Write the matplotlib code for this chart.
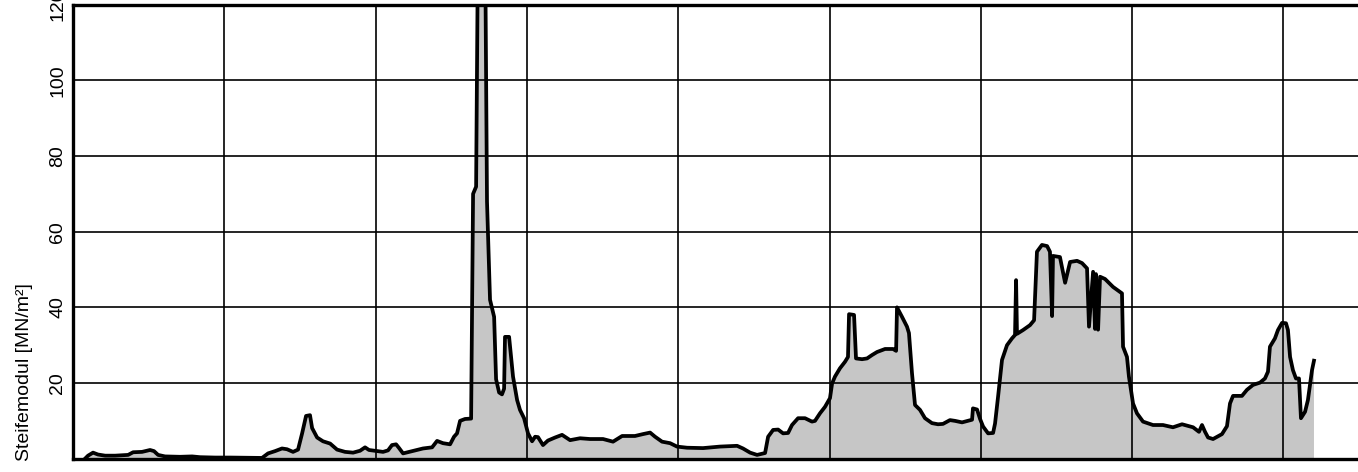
import numpy as np
import matplotlib
matplotlib.use("Agg")
import matplotlib.pyplot as plt

plt.rcParams['font.family'] = ['Liberation Sans', 'DejaVu Sans']

# position along the profile (grid line every 1 unit)
dist = [0.079, 0.099, 0.132, 0.165, 0.212, 0.278, 0.364, 0.397, 0.456, 0.509,
        0.535, 0.562, 0.608, 0.707, 0.787, 0.839, 0.939, 1.038, 1.249, 1.289,
        1.335, 1.381, 1.414, 1.454, 1.487, 1.514, 1.540, 1.566, 1.580, 1.613,
        1.652, 1.699, 1.745, 1.798, 1.851, 1.897, 1.930, 1.956, 2.009, 2.049,
        2.082, 2.108, 2.135, 2.155, 2.181, 2.241, 2.313, 2.373, 2.406, 2.445,
        2.492, 2.518, 2.538, 2.558, 2.591, 2.631, 2.644, 2.664, 2.677, 2.723,
        2.736, 2.756, 2.783, 2.796, 2.816, 2.835, 2.849, 2.855, 2.882, 2.908,
        2.935, 2.954, 2.981, 3.007, 3.034, 3.054, 3.073, 3.106, 3.139, 3.186,
        3.232, 3.285, 3.351, 3.417, 3.503, 3.569, 3.629, 3.714, 3.767, 3.814,
        3.847, 3.893, 3.946, 3.992, 4.058, 4.164, 4.276, 4.389, 4.428, 4.475,
        4.521, 4.574, 4.594, 4.627, 4.660, 4.693, 4.726, 4.752, 4.792, 4.838,
        4.884, 4.904, 4.937, 4.970, 5.003, 5.017, 5.036, 5.069, 5.102, 5.122,
        5.129, 5.162, 5.175, 5.215, 5.248, 5.281, 5.314, 5.367, 5.420, 5.440,
        5.446, 5.479, 5.512, 5.525, 5.545, 5.565, 5.598, 5.631, 5.677, 5.717,
        5.750, 5.796, 5.829, 5.876, 5.915, 5.942, 5.948, 5.975, 5.995, 6.015,
        6.048, 6.081, 6.094, 6.114, 6.140, 6.173, 6.206, 6.226, 6.233, 6.239,
        6.279, 6.325, 6.352, 6.371, 6.404, 6.438, 6.457, 6.471, 6.477, 6.523,
        6.557, 6.590, 6.636, 6.669, 6.702, 6.715, 6.742, 6.755, 6.761, 6.775,
        6.788, 6.821, 6.874, 6.933, 6.940, 6.966, 6.979, 7.006, 7.032, 7.072,
        7.138, 7.204, 7.270, 7.330, 7.403, 7.442, 7.462, 7.482, 7.502, 7.535,
        7.594, 7.627, 7.647, 7.667, 7.726, 7.759, 7.799, 7.845, 7.878, 7.898,
        7.911, 7.944, 7.964, 7.991, 8.017, 8.030, 8.044, 8.063, 8.083, 8.103,
        8.116, 8.143, 8.162, 8.189, 8.202]

# Steifemodul in MN/m2
modul = [0.0, 0.8, 1.6, 1.1, 0.8, 0.8, 1.0, 1.7, 1.8, 2.3,
         2.0, 1.0, 0.6, 0.5, 0.6, 0.4, 0.3, 0.3, 0.2, 1.4,
         2.0, 2.7, 2.5, 1.8, 2.4, 6.7, 11.3, 11.5, 8.1, 5.6,
         4.6, 4.0, 2.4, 1.8, 1.6, 2.1, 3.0, 2.3, 2.0, 1.8,
         2.2, 3.6, 3.8, 2.8, 1.4, 2.0, 2.7, 3.0, 4.7, 4.1,
         3.8, 5.8, 6.7, 10.0, 10.5, 10.6, 70.0, 71.9, 140.0, 140.0,
         68.0, 42.0, 37.5, 21.0, 17.5, 17.0, 18.5, 32.2, 32.2, 21.7,
         15.5, 12.9, 10.7, 6.7, 4.6, 5.8, 5.7, 3.6, 4.8, 5.6,
         6.3, 4.9, 5.4, 5.2, 5.2, 4.5, 6.0, 6.0, 6.5, 6.9,
         5.8, 4.5, 4.1, 3.2, 2.9, 2.8, 3.2, 3.4, 2.7, 1.6,
         1.0, 1.5, 5.8, 7.6, 7.7, 6.7, 6.8, 8.9, 10.7, 10.7,
         9.8, 10.0, 12.0, 13.7, 16.0, 19.9, 21.7, 23.9, 25.6, 26.9,
         38.2, 38.0, 26.5, 26.3, 26.5, 27.4, 28.2, 29.0, 29.0, 28.5,
         40.0, 37.5, 34.9, 33.2, 22.6, 14.2, 12.9, 10.7, 9.4, 9.1,
         9.2, 10.2, 10.0, 9.6, 10.0, 10.3, 13.3, 13.0, 10.5, 8.5,
         6.7, 6.8, 9.3, 16.4, 26.1, 30.0, 31.8, 32.7, 47.2, 33.0,
         34.0, 35.3, 36.6, 54.7, 56.5, 56.2, 54.7, 37.7, 53.6, 53.3,
         46.5, 52.0, 52.3, 51.7, 50.3, 34.9, 49.4, 34.3, 48.8, 34.1,
         48.1, 47.5, 45.4, 43.7, 29.6, 26.9, 21.7, 14.6, 12.0, 9.8,
         8.9, 8.9, 8.3, 9.1, 8.3, 7.1, 8.9, 7.1, 5.6, 5.2,
         6.5, 8.6, 14.6, 16.6, 16.6, 18.2, 19.5, 20.1, 21.2, 23.0,
         29.6, 31.8, 34.0, 35.9, 35.8, 34.0, 26.9, 23.4, 21.2, 21.2,
         10.7, 12.4, 15.5, 23.4, 25.9]

yticks = [20, 40, 60, 80, 100, 120]

fig = plt.figure(figsize=(13.58, 4.72), dpi=100)
ax = fig.add_axes([0.0538, 0.0282, 0.9462, 0.9618])

ax.fill_between(dist, 0, modul, color='#c6c6c6', linewidth=0, zorder=1)
ax.plot(dist, modul, color='black', linewidth=2.7, solid_joinstyle='round', zorder=3)

ax.set_xlim(0, 8.493)
ax.set_ylim(0, 120)
ax.set_xticks(np.arange(1, 9))
ax.set_yticks(yticks)
ax.grid(True, color='black', linewidth=1.2, zorder=2)
ax.set_axisbelow(False)
ax.tick_params(axis='x', length=0, labelbottom=False)
ax.tick_params(axis='y', length=0, pad=5, labelsize=14, labelrotation=90)
for lab in ax.get_yticklabels():
    lab.set_va('center')

for s in ['left', 'top', 'bottom']:
    ax.spines[s].set_linewidth(2.4)
ax.spines['right'].set_visible(False)

# label sits low on the axis, like in the original
ax.set_ylabel('Steifemodul [MN/m²]', fontsize=14)
ax.yaxis.set_label_coords(-0.031, 0.19)

fig.savefig('out.png', dpi=100)
